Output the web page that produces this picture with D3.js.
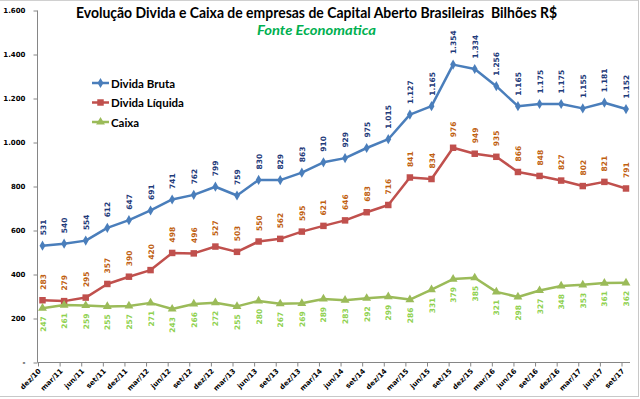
<!DOCTYPE html>
<html><head><meta charset="utf-8">
<script src="https://cdn.jsdelivr.net/npm/d3@7"></script>
<style>body{margin:0;background:#fff}svg{display:block}</style>
</head><body>
<svg id="c" width="640" height="399"></svg>
<script>
const categories = ["dez/10","mar/11","jun/11","set/11","dez/11","mar/12","jun/12","set/12","dez/12","mar/13","jun/13","set/13","dez/13","mar/14","jun/14","set/14","dez/14","mar/15","jun/15","set/15","dez/15","mar/16","jun/16","set/16","dez/16","mar/17","jun/17","set/17"];
const dividaBruta = [531,540,554,612,647,691,741,762,799,759,830,829,863,910,929,975,1015,1127,1165,1354,1334,1256,1165,1175,1175,1155,1181,1152];
const dividaLiquida = [283,279,295,357,390,420,498,496,527,503,550,562,595,621,646,683,716,841,834,976,949,935,866,848,827,802,821,791];
const caixa = [247,261,259,255,257,271,243,266,272,255,280,267,269,289,283,292,299,286,331,379,385,321,298,327,348,353,361,362];
const yTicks = [0,200,400,600,800,1000,1200,1400,1600];
const seriesNames = ["Divida Bruta","Divida Líquida","Caixa"];

const svg = d3.select("#c");
const x = d3.scalePoint().domain(categories).range([42.5, 626]);
const y = d3.scaleLinear().domain([0,1600]).range([362.5, 10.5]);
const tickOff = -4.5;
const fmt = v => v === 0 ? "-" : d3.format(",")(v).replace(/,/g, ".");

// border
svg.append("line").attr("x1",0).attr("x2",639).attr("y1",0.5).attr("y2",0.5).attr("stroke","#d0d0d0");
svg.append("line").attr("x1",638.5).attr("x2",638.5).attr("y1",0).attr("y2",397).attr("stroke","#c8c8c8");
svg.append("line").attr("x1",0).attr("x2",639).attr("y1",396.5).attr("y2",396.5).attr("stroke","#c8c8c8");

// title
svg.append("text").attr("x",316.5).attr("y",18).attr("text-anchor","middle")
  .style("white-space","pre")
  .attr("font-family","Lato, 'Open Sans', sans-serif").attr("font-weight","bold").attr("font-size",15)
  .attr("textLength",481).attr("lengthAdjust","spacingAndGlyphs").attr("fill","#000")
  .text("Evolução Divida e Caixa de empresas de Capital Aberto Brasileiras  Bilhões R$");
svg.append("text").attr("x",316.5).attr("y",35).attr("text-anchor","middle")
  .attr("font-family","Lato, 'Open Sans', sans-serif").attr("font-weight","bold").attr("font-style","italic").attr("font-size",14)
  .attr("textLength",119).attr("lengthAdjust","spacingAndGlyphs").attr("fill","#00b050")
  .text("Fonte Economatica");

// y axis
const yAxis = d3.axisLeft(y).tickValues(yTicks).tickFormat(fmt).tickSize(4).tickPadding(8);
const gy = svg.append("g").attr("transform","translate(37.5,0)").call(yAxis);
gy.select(".domain").attr("stroke","#868686").attr("d","M0,10.5V362.5");
gy.selectAll(".tick line").attr("stroke","#868686");
gy.selectAll(".tick text").attr("font-family","'DejaVu Sans', Verdana, sans-serif").attr("font-size",7).attr("font-weight","bold").attr("fill","#000");

// x axis
const xs = d3.scalePoint().domain(categories).range([42.5+tickOff, 626+tickOff]);
const xAxis = d3.axisBottom(xs).tickSize(4).tickPadding(2);
const gx = svg.append("g").attr("transform","translate(0,362.5)").call(xAxis);
gx.select(".domain").attr("stroke","#868686").attr("d","M37.5,0H630");
gx.selectAll(".tick line").attr("stroke","#868686");
gx.selectAll(".tick text").attr("font-family","'DejaVu Sans', Verdana, sans-serif").attr("font-size",7).attr("font-weight","bold").attr("fill","#000")
  .attr("text-anchor","end").attr("dy",null).attr("y",0)
  .attr("transform","translate(3,9) rotate(-45)");

const series = [
  {name: seriesNames[0], values: dividaBruta, color:"#4a7ebb", label:"#1f3b7a", sym: d3.symbolDiamond, size: 30, pos:"above"},
  {name: seriesNames[1], values: dividaLiquida, color:"#c0504d", label:"#c0600f", sym: d3.symbolSquare, size: 42, pos:"above"},
  {name: seriesNames[2], values: caixa, color:"#9bbb59", label:"#8fd14f", sym: d3.symbolTriangle, size: 34, pos:"below"}
];

const line = d3.line().x((d,i)=>x(categories[i])).y(d=>y(d));
series.forEach(s=>{
  const g = svg.append("g");
  g.append("path").datum(s.values).attr("d",line).attr("fill","none").attr("stroke",s.color).attr("stroke-width",2.5).attr("stroke-linejoin","round");
  g.selectAll("path.m").data(s.values).enter().append("path").attr("class","m")
    .attr("d",d3.symbol().type(s.sym).size(s.size))
    .attr("transform",(d,i)=>`translate(${x(categories[i])},${y(d)})`).attr("fill",s.color);
  g.selectAll("text").data(s.values).enter().append("text")
    .attr("transform",(d,i)=>{
      const px = x(categories[i]) + 0.5, py = s.pos==="above" ? y(d)-10.5 : y(d)+8;
      return `translate(${px},${py}) rotate(-90)`;
    })
    .attr("text-anchor", s.pos==="above" ? "start" : "end")
    .attr("dominant-baseline","central")
    .attr("font-family","'DejaVu Sans', Verdana, sans-serif").attr("font-size",7.5).attr("font-weight",600)
    .attr("fill",s.label).text(d=>fmt(d));
});

// legend
const lg = svg.append("g");
series.forEach((s,i)=>{
  const ly = 83 + i*19.5;
  lg.append("line").attr("x1",92).attr("x2",109).attr("y1",ly).attr("y2",ly).attr("stroke",s.color).attr("stroke-width",2.5);
  lg.append("path").attr("d",d3.symbol().type(s.sym).size(s.size)).attr("transform",`translate(100.5,${ly})`).attr("fill",s.color);
  lg.append("text").attr("x",111).attr("y",ly).attr("dominant-baseline","central")
    .attr("font-family","Lato, 'Open Sans', sans-serif").attr("font-weight","bold").attr("font-size",11.5).attr("fill","#000")
    .text(s.name);
});
</script>
</body></html>
